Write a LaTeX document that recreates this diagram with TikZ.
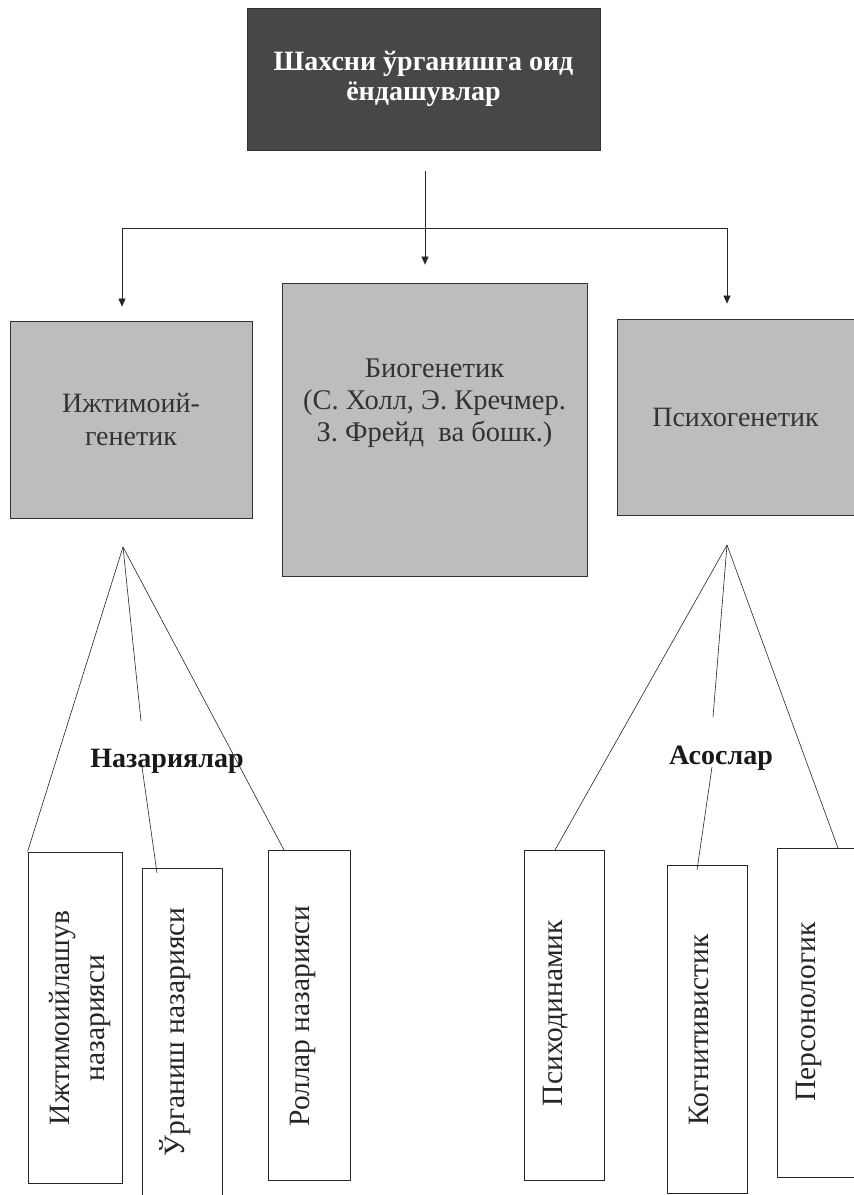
\documentclass[tikz,border=0pt]{standalone}
\usepackage{fontspec}
\setmainfont{Liberation Serif}
\usetikzlibrary{arrows.meta}
\begin{document}
\begin{tikzpicture}[x=1pt,y=-1pt,
  greybox/.style={draw=black!80, line width=0.8pt, fill=black!26, inner sep=0pt, text=black!80, align=center, font=\fontsize{28}{33}\selectfont},
  whitebox/.style={draw=black!85, line width=0.8pt, fill=white, inner sep=0pt},
  vtext/.style={rotate=90, align=center, inner sep=0pt, font=\fontsize{29.5}{35}\selectfont, text=black!85},
  lbl/.style={font=\bfseries\fontsize{28}{32}\selectfont, text=black!90, inner sep=0pt},
  conn/.style={draw=black!85, line width=0.6pt},
  arr/.style={conn, -{Triangle[length=8pt,width=7pt]}}
]
\clip (0,0) rectangle (854,1195);
\fill[white] (0,0) rectangle (854,1195);

% top box
\node[draw=black!80, line width=0.8pt, fill=black!72, text=white, minimum width=353pt, minimum height=142pt, inner sep=0pt, align=center, font=\bfseries\fontsize{28}{30}\selectfont] (top) at (423.5,79) {Шахсни ўрганишга оид\\ёндашувлар};

% second row
\node[greybox, minimum width=242pt, minimum height=197pt] (soc) at (131,419.5) {Ижтимоий-\\генетик};
\node[greybox, minimum width=305pt, minimum height=293pt] (bio) at (434.5,429.5) {};
\node[text=black!80, align=center, inner sep=0pt, font=\fontsize{28.5}{32}\selectfont] (biotext) at (434.5,403) {Биогенетик\\(С. Холл, Э. Кречмер.\\З. Фрейд\ \ ва бошк.)};
\node[greybox, minimum width=237pt, minimum height=196pt] (psy) at (735.5,417) {Психогенетик};

% arrows
\coordinate (c0) at (425,171);
\coordinate (hl) at (122,228);
\coordinate (hr) at (727,228);
\draw[arr, shorten >=18pt] (c0) -- (c0 |- bio.north);
\draw[conn] (hl) -- (hr);
\draw[arr, shorten >=14pt] (hl) -- (hl |- soc.north);
\draw[arr, shorten >=15pt] (hr) -- (hr |- psy.north);

% bottom boxes
\node[whitebox, minimum width=94pt, minimum height=331pt] (b1) at (75,1017.5) {};
\node[whitebox, minimum width=80pt, minimum height=332pt] (b2) at (182,1034) {};
\node[whitebox, minimum width=82pt, minimum height=330pt] (b3) at (309,1015) {};
\node[whitebox, minimum width=80pt, minimum height=330pt] (b4) at (564,1015) {};
\node[whitebox, minimum width=80pt, minimum height=328pt] (b5) at (707,1029) {};
\node[whitebox, minimum width=80pt, minimum height=329pt] (b6) at (817,1012.5) {};

\node[vtext] (t1) at (80,1018) {Ижтимоийлашув\\назарияси};
\node[vtext] (t2) at (175,1032) {Ўрганиш назарияси};
\node[vtext] (t3) at (303,1016) {Роллар назарияси};
\node[vtext] (t4) at (556,1013) {Психодинамик};
\node[vtext] (t5) at (699,1030) {Когнитивистик};
\node[vtext] (t6) at (809,1012) {Персонологик};

% fan lines
\coordinate (apL) at (123,547);
\coordinate (apR) at (727,545);
\coordinate (nzTop) at (141,721);
\coordinate (nzBot) at (142,767);
\coordinate (asTop) at (713,717);
\coordinate (asBot) at (712,767);
\coordinate (b2in) at (157,873);
\coordinate (b3top) at (284,850);
\coordinate (b4top) at (555,850);
\coordinate (b5in) at (697,870);
\coordinate (b6top) at (838,848);

\draw[conn] (apL) -- (b1.north west);
\draw[conn] (apL) -- (nzTop);
\draw[conn] (nzBot) -- (b2in);
\draw[conn] (apL) -- (b3top);
\draw[conn] (apR) -- (b4top);
\draw[conn] (apR) -- (asTop);
\draw[conn] (asBot) -- (b5in);
\draw[conn] (apR) -- (b6top);

\node[lbl] (naz) at (167,761) {Назариялар};
\node[lbl] (aso) at (721,758) {Асослар};
\end{tikzpicture}
\end{document}
